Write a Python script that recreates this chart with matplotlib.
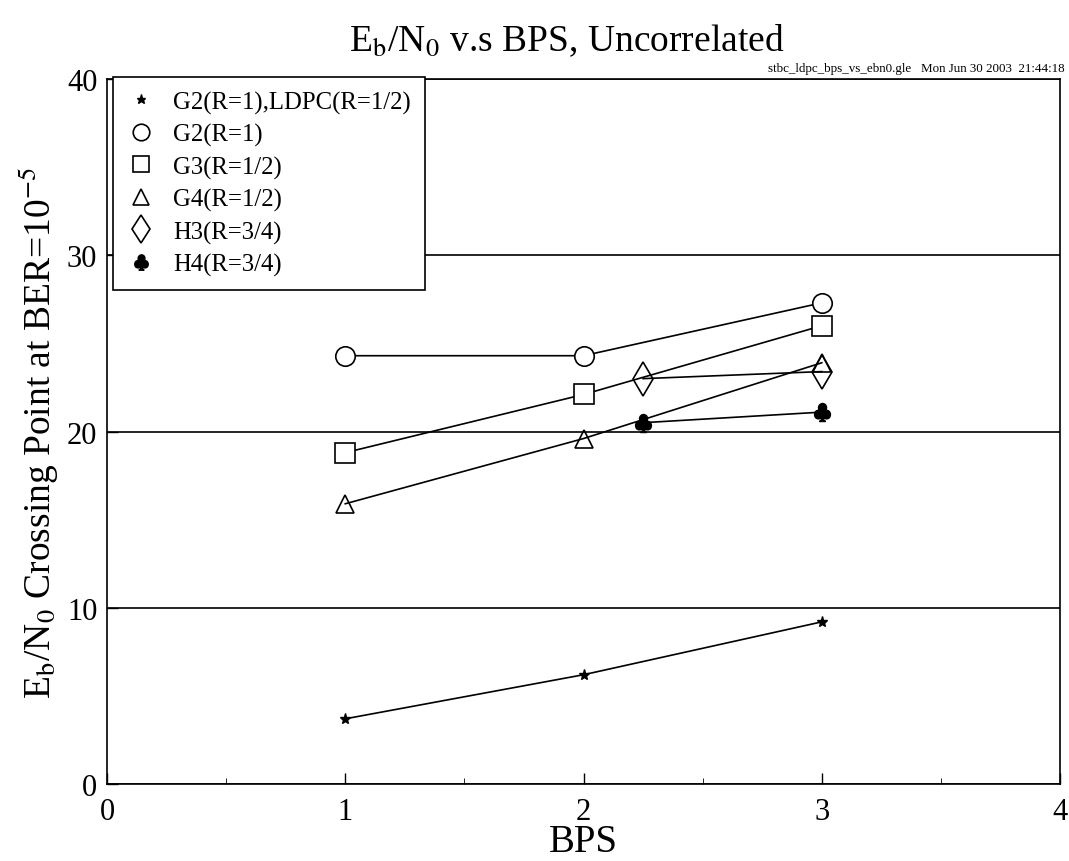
import matplotlib
matplotlib.use("Agg")
import matplotlib.pyplot as plt
from matplotlib.ticker import MultipleLocator

plt.rcParams['font.family'] = ['Liberation Serif', 'DejaVu Serif']
plt.rcParams['mathtext.fontset'] = 'stix'

# crossing points (Eb/N0 in dB) per scheme
bps_g = [1, 2, 3]
ebn0_g2_ldpc = [3.7, 6.2, 9.2]
ebn0_g2 = [24.3, 24.3, 27.3]
ebn0_g3 = [18.8, 22.1, 26.0]
ebn0_g4 = [15.9, 19.6, 23.9]
bps_h = [2.25, 3]
ebn0_h3 = [23.0, 23.4]
ebn0_h4 = [20.5, 21.1]

labels = ['G2(R=1),LDPC(R=1/2)', 'G2(R=1)', 'G3(R=1/2)', 'G4(R=1/2)',
          'H3(R=3/4)', 'H4(R=3/4)']

fig = plt.figure(figsize=(10.69, 8.62), dpi=100)
ax = fig.add_axes([0.1001, 0.0893, 0.8915, 0.8179])

lw = 1.2
ax.plot(bps_g, ebn0_g2_ldpc, 'k-', lw=lw, marker='*', ms=8, label=labels[0])
ax.plot(bps_g, ebn0_g2, 'k-', lw=lw, marker='o', ms=14, mfc='white', mew=1.2, label=labels[1])
ax.plot(bps_g, ebn0_g3, 'k-', lw=lw, marker='s', ms=14, mfc='white', mew=1.2, label=labels[2])
ax.plot(bps_g, ebn0_g4, 'k-', lw=lw, marker='^', ms=13, mfc='none', mew=1.2, label=labels[3])
ax.plot(bps_h, ebn0_h3, 'k-', lw=lw, marker='d', ms=17, mfc='none', mew=1.2, label=labels[4])
ax.plot(bps_h, ebn0_h4, 'k-', lw=lw, marker=r'$\clubsuit$', ms=13, label=labels[5])

ax.set_xlim(0, 4)
ax.set_ylim(0, 40)
ax.xaxis.set_major_locator(MultipleLocator(1))
ax.xaxis.set_minor_locator(MultipleLocator(0.5))
ax.yaxis.set_major_locator(MultipleLocator(10))
ax.tick_params(direction='in', labelsize=22, length=8, width=1, pad=9)
ax.tick_params(axis='y', pad=7)
ax.tick_params(which='minor', direction='in', length=4)
ax.yaxis.grid(True, color='black', lw=1.2)
ax.set_axisbelow(True)
for s in ax.spines.values():
    s.set_linewidth(1.2)

ax.set_xlabel('BPS', fontsize=28, labelpad=-2)
ax.set_ylabel(r'E$_{\rm b}$/N$_{\rm 0}$ Crossing Point at BER=10$^{-5}$', fontsize=27, labelpad=4)
fig.text(0.53, 0.953, r'E$_{\rm b}$/N$_{\rm 0}$ v.s BPS, Uncorrelated', fontsize=27,
         ha='center', va='center')
fig.text(0.996, 0.92, 'stbc_ldpc_bps_vs_ebn0.gle   Mon Jun 30 2003  21:44:18', fontsize=9.4,
         ha='right', va='center')

leg = ax.legend(loc='upper left', bbox_to_anchor=(0.006, 1.003), fontsize=17.8,
                frameon=True, fancybox=False, edgecolor='black', framealpha=1,
                borderpad=0.55, labelspacing=0.38, handlelength=1.2, handletextpad=0.7,
                borderaxespad=0, markerscale=0.85)
for h in leg.legend_handles:
    h.set_linestyle('none')
leg.get_frame().set_linewidth(1.2)

fig.savefig('out.png', dpi=100)
